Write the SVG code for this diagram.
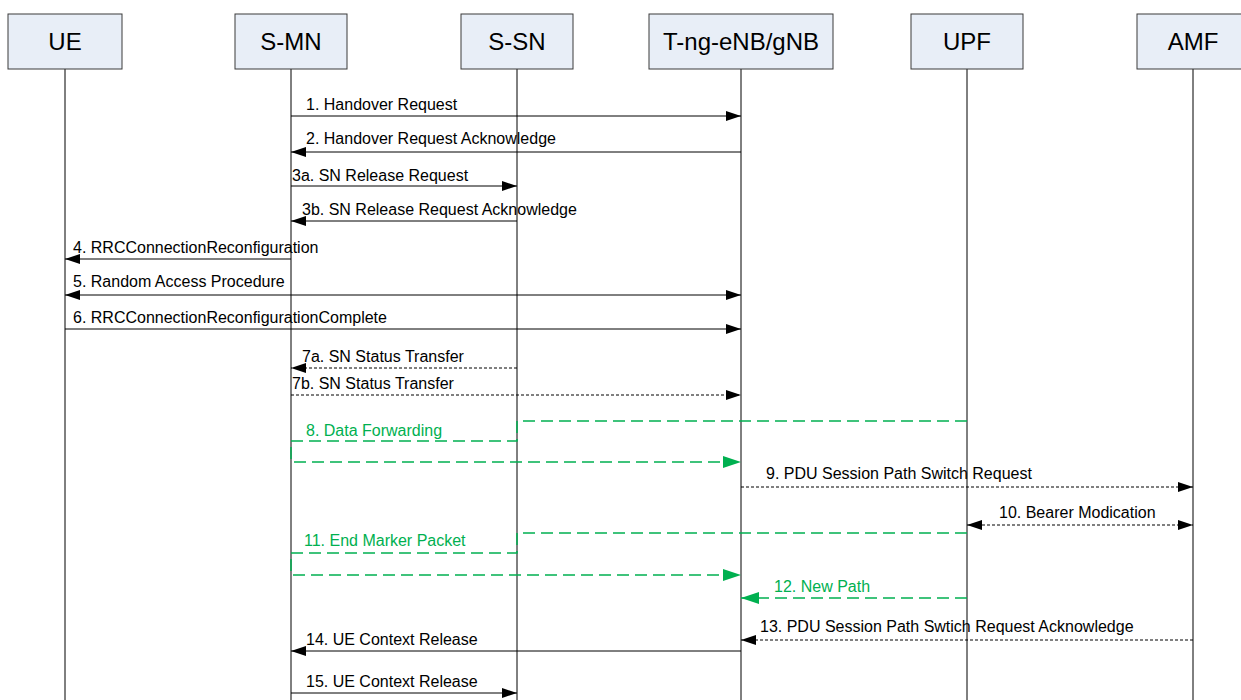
<svg xmlns="http://www.w3.org/2000/svg" width="1241" height="700" viewBox="0 0 1241 700">
<style>
.box{fill:#E8EEF7;stroke:#3a3a3a;stroke-width:1}
.nt{font-family:"Liberation Sans",Arial,sans-serif;font-size:24px;fill:#000;text-anchor:middle}
.life{stroke:#000;stroke-width:1}
.m{stroke:#000;stroke-width:1;fill:none}
.d{stroke:#000;stroke-width:1;fill:none;stroke-dasharray:3,2}
.g{stroke:#00B050;stroke-width:1.5;fill:none;stroke-dasharray:12,6}
.lb{font-family:"Liberation Sans",Arial,sans-serif;font-size:16px;fill:#000}
.gl{font-family:"Liberation Sans",Arial,sans-serif;font-size:16px;fill:#00B050}
</style>
<defs>
<marker id="a" markerWidth="15" markerHeight="10" refX="15" refY="5" orient="auto-start-reverse" markerUnits="userSpaceOnUse"><path d="M0,0 L15,5 L0,10 Z" fill="#000"/></marker>
<marker id="ag" markerWidth="18" markerHeight="12" refX="18" refY="6" orient="auto-start-reverse" markerUnits="userSpaceOnUse"><path d="M0,0 L18,6 L0,12 Z" fill="#00B050"/></marker>
</defs>
<rect width="1241" height="700" fill="#fff"/>
<g id="lifelines">
<line class="life" x1="65" y1="69" x2="65" y2="700"/>
<line class="life" x1="291" y1="69" x2="291" y2="700"/>
<line class="life" x1="517" y1="69" x2="517" y2="700" stroke="#777"/>
<line class="life" x1="741" y1="69" x2="741" y2="700"/>
<line class="life" x1="967" y1="69" x2="967" y2="700"/>
<line class="life" x1="1193" y1="69" x2="1193" y2="700"/>
</g>
<g id="UE"><rect class="box" x="8" y="14" width="114" height="55"/><text class="nt" x="65" y="50">UE</text></g>
<g id="S-MN"><rect class="box" x="235" y="14" width="112" height="55"/><text class="nt" x="291" y="50">S-MN</text></g>
<g id="S-SN"><rect class="box" x="461" y="14" width="112" height="55"/><text class="nt" x="517" y="50">S-SN</text></g>
<g id="T-ng-eNB"><rect class="box" x="649" y="14" width="184" height="55"/><text class="nt" x="741" y="50">T-ng-eNB/gNB</text></g>
<g id="UPF"><rect class="box" x="911" y="14" width="112" height="55"/><text class="nt" x="967" y="50">UPF</text></g>
<g id="AMF"><rect class="box" x="1137" y="14" width="112" height="55"/><text class="nt" x="1193" y="50">AMF</text></g>
<g id="connectors">
<line class="m" x1="291" y1="116" x2="741" y2="116" marker-end="url(#a)"/>
<line class="m" x1="741" y1="152" x2="291" y2="152" marker-end="url(#a)"/>
<line class="m" x1="291" y1="186" x2="517" y2="186" marker-end="url(#a)"/>
<line class="m" x1="517" y1="221" x2="291" y2="221" marker-end="url(#a)"/>
<line class="m" x1="291" y1="259" x2="65" y2="259" marker-end="url(#a)"/>
<line class="m" x1="65" y1="295" x2="741" y2="295" marker-start="url(#a)" marker-end="url(#a)"/>
<line class="m" x1="65" y1="329" x2="741" y2="329" marker-end="url(#a)"/>
<line class="d" x1="517" y1="368" x2="291" y2="368" marker-end="url(#a)"/>
<line class="d" x1="291" y1="395" x2="741" y2="395" marker-end="url(#a)"/>
<path class="g" d="M967,421 H517 V441 H291 V462 H741" marker-end="url(#ag)"/>
<line class="d" x1="741" y1="487" x2="1193" y2="487" marker-end="url(#a)"/>
<line class="d" x1="967" y1="525" x2="1193" y2="525" marker-start="url(#a)" marker-end="url(#a)"/>
<path class="g" d="M967,533 H517 V553 H291 V575 H741" marker-end="url(#ag)"/>
<line class="g" x1="967" y1="598" x2="741" y2="598" marker-end="url(#ag)"/>
<line class="d" x1="1193" y1="640" x2="741" y2="640" marker-end="url(#a)"/>
<line class="m" x1="741" y1="651" x2="291" y2="651" marker-end="url(#a)"/>
<line class="m" x1="291" y1="693" x2="517" y2="693" marker-end="url(#a)"/>
</g>
<g id="labels">
<text class="lb" x="306" y="110">1. Handover Request</text>
<text class="lb" x="306" y="144">2. Handover Request Acknowledge</text>
<text class="lb" x="292" y="181">3a. SN Release Request</text>
<text class="lb" x="302" y="215">3b. SN Release Request Acknowledge</text>
<text class="lb" x="73" y="253">4. RRCConnectionReconfiguration</text>
<text class="lb" x="73" y="287">5. Random Access Procedure</text>
<text class="lb" x="73" y="323">6. RRCConnectionReconfigurationComplete</text>
<text class="lb" x="302" y="362">7a. SN Status Transfer</text>
<text class="lb" x="292" y="389">7b. SN Status Transfer</text>
<text class="gl" x="306" y="436">8. Data Forwarding</text>
<text class="lb" x="766" y="479">9. PDU Session Path Switch Request</text>
<text class="lb" x="999" y="518">10. Bearer Modication</text>
<text class="gl" x="304" y="546">11. End Marker Packet</text>
<text class="gl" x="774" y="592">12. New Path</text>
<text class="lb" x="760" y="632">13. PDU Session Path Swtich Request Acknowledge</text>
<text class="lb" x="306" y="645">14. UE Context Release</text>
<text class="lb" x="306" y="687">15. UE Context Release</text>
</g>
</svg>
